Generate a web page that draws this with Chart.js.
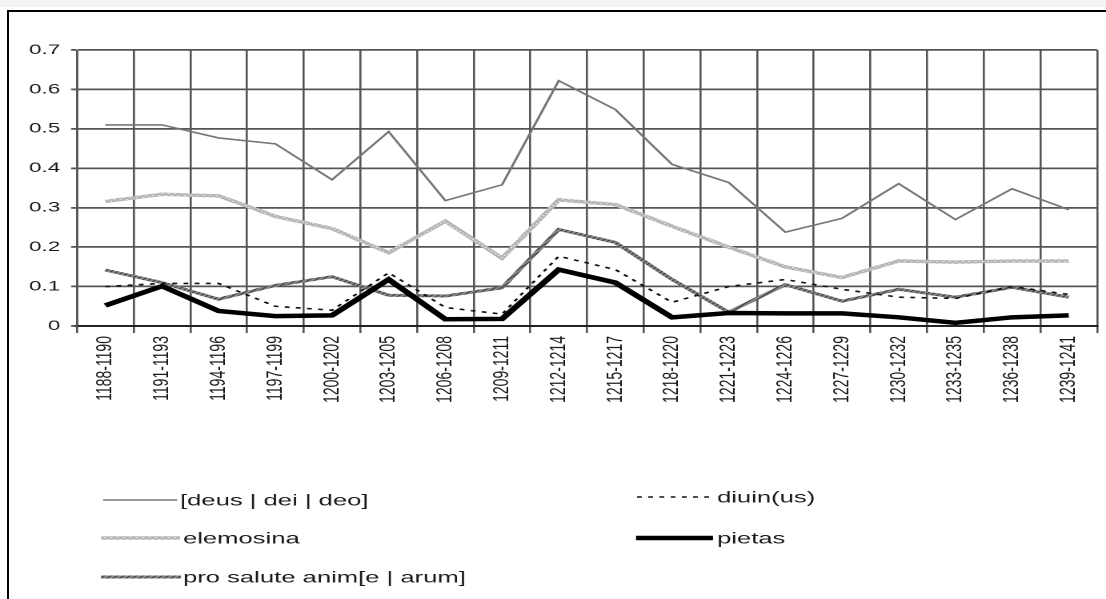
<!DOCTYPE html>
<html lang="la">
<head>
    <meta charset="UTF-8">
    <title>deus / diuin(us) / elemosina / pietas / pro salute anim[e | arum]</title>
    <script src="https://cdn.jsdelivr.net/npm/chart.js"></script>
    <style>
        html, body {
            margin: 0;
            padding: 0;
            background: #fff;
            overflow: hidden;
        }
        .topstrip {
            position: absolute;
            left: 0; top: 0;
            width: 1106px; height: 7px;
            background: #f3f3f3;
        }
        .frame {
            position: absolute;
            left: 7px; top: 10px;
            width: 1120px; height: 620px;
            border: 2px solid #000;
        }
        /* the original picture is an Excel chart stretched sideways: draw it narrow, then widen it */
        #wrap {
            position: absolute;
            left: 0; top: 0;
            width: 691px; height: 599px;
            transform: scaleX(1.6006);
            transform-origin: 0 0;
        }
    </style>
</head>
<body>
    <div class="topstrip"></div>
    <div class="frame"></div>
    <div id="wrap">
        <canvas id="chart" style="width:691px;height:599px"></canvas>
    </div>

    <script>
        // periodes (3 ans)
        const categories = [
            '1188-1190', '1191-1193', '1194-1196', '1197-1199', '1200-1202', '1203-1205',
            '1206-1208', '1209-1211', '1212-1214', '1215-1217', '1218-1220', '1221-1223',
            '1224-1226', '1227-1229', '1230-1232', '1233-1235', '1236-1238', '1239-1241'
        ];

        const deus = [0.51, 0.51, 0.477, 0.462, 0.371, 0.493, 0.318, 0.358, 0.622,
                      0.549, 0.41, 0.364, 0.238, 0.273, 0.361, 0.27, 0.348, 0.295];
        const diuinus = [0.1, 0.108, 0.108, 0.05, 0.04, 0.135, 0.047, 0.03, 0.177,
                         0.143, 0.06, 0.1, 0.118, 0.093, 0.073, 0.07, 0.1, 0.08];
        const elemosina = [0.316, 0.334, 0.33, 0.278, 0.247, 0.186, 0.266, 0.172, 0.32,
                           0.308, 0.253, 0.2, 0.15, 0.123, 0.165, 0.162, 0.165, 0.165];
        const pietas = [0.052, 0.101, 0.038, 0.025, 0.027, 0.118, 0.017, 0.018, 0.143,
                        0.11, 0.022, 0.033, 0.032, 0.032, 0.022, 0.008, 0.022, 0.027];
        const proSalute = [0.142, 0.11, 0.068, 0.103, 0.125, 0.078, 0.076, 0.097, 0.245,
                           0.212, 0.118, 0.035, 0.105, 0.063, 0.093, 0.073, 0.098, 0.073];

        const yTicks = [0, 0.1, 0.2, 0.3, 0.4, 0.5, 0.6, 0.7];

        const SX = 1106 / 691;   // horizontal stretch applied by css

        // petits motifs pour imiter les traits hachures d'Excel
        function makePattern(bg, fg, dots) {
            const c = document.createElement('canvas');
            c.width = 4; c.height = 4;
            const g = c.getContext('2d');
            g.fillStyle = bg;
            g.fillRect(0, 0, 4, 4);
            g.fillStyle = fg;
            dots.forEach(d => g.fillRect(d[0], d[1], 1, 1));
            return g.createPattern(c, 'repeat');
        }
        const elemPattern = makePattern('#b4b4b4', '#ffffff', [[1, 1], [3, 3]]);
        const salutePattern = makePattern('#8c8c8c', '#1a1a1a', [[0, 0], [2, 2], [1, 3], [3, 1]]);

        Chart.defaults.font.family = '"Liberation Sans", Arial, sans-serif';
        Chart.defaults.color = '#1a1a1a';

        // legende en deux colonnes (positions en px de la page)
        const legendLayout = [
            { ds: 0, x0: 103, x1: 177, tx: 180, y: 500 },
            { ds: 2, x0: 101, x1: 180, tx: 183, y: 538 },
            { ds: 4, x0: 101, x1: 181, tx: 183, y: 577 },
            { ds: 1, x0: 637, x1: 710, tx: 717, y: 497 },
            { ds: 3, x0: 636, x1: 713, tx: 717, y: 538 }
        ];

        const legendPlugin = {
            id: 'twoColLegend',
            afterDraw(chart) {
                const ctx = chart.ctx;
                ctx.save();
                legendLayout.forEach(item => {
                    const ds = chart.data.datasets[item.ds];
                    ctx.beginPath();
                    ctx.strokeStyle = ds.borderColor;
                    ctx.lineWidth = ds.borderWidth;
                    ctx.setLineDash(ds.borderDash || []);
                    ctx.moveTo(item.x0 / SX, item.y);
                    ctx.lineTo(item.x1 / SX, item.y);
                    ctx.stroke();
                    ctx.setLineDash([]);
                    ctx.fillStyle = '#1a1a1a';
                    ctx.font = '16px "Liberation Sans", Arial, sans-serif';
                    ctx.textBaseline = 'middle';
                    ctx.textAlign = 'left';
                    ctx.fillText(ds.label, item.tx / SX, item.y + 1);
                });
                ctx.restore();
            }
        };

        const ctx = document.getElementById('chart').getContext('2d');
        new Chart(ctx, {
            type: 'line',
            data: {
                labels: categories,
                datasets: [
                    {
                        label: '[deus | dei | deo]',
                        data: deus,
                        borderColor: '#777777',
                        borderWidth: 1.6,
                        pointRadius: 0,
                        tension: 0
                    },
                    {
                        label: 'diuin(us)',
                        data: diuinus,
                        borderColor: '#111111',
                        borderWidth: 1.6,
                        borderDash: [3, 4],
                        pointRadius: 0,
                        tension: 0
                    },
                    {
                        label: 'elemosina',
                        data: elemosina,
                        borderColor: elemPattern,
                        borderWidth: 3.5,
                        pointRadius: 0,
                        tension: 0
                    },
                    {
                        label: 'pietas',
                        data: pietas,
                        borderColor: '#000000',
                        borderWidth: 4.5,
                        pointRadius: 0,
                        tension: 0
                    },
                    {
                        label: 'pro salute anim[e | arum]',
                        data: proSalute,
                        borderColor: salutePattern,
                        borderWidth: 3,
                        pointRadius: 0,
                        tension: 0
                    }
                ]
            },
            options: {
                responsive: false,
                animation: false,
                devicePixelRatio: 2,
                layout: {
                    padding: { left: 0, top: 50, right: 5.6, bottom: 183 }
                },
                plugins: {
                    legend: { display: false },
                    tooltip: { enabled: false }
                },
                scales: {
                    x: {
                        offset: true,
                        grid: {
                            offset: true,
                            color: '#555',
                            lineWidth: 1.3,
                            tickLength: 7
                        },
                        border: { color: '#222', width: 2 },
                        ticks: {
                            minRotation: 90,
                            maxRotation: 90,
                            autoSkip: false,
                            padding: 3,
                            font: { size: 14 }
                        },
                        afterFit(scale) { scale.height = 90; }
                    },
                    y: {
                        min: 0,
                        max: 0.7,
                        afterBuildTicks(scale) {
                            scale.ticks = yTicks.map(v => ({ value: v }));
                        },
                        grid: {
                            color: '#555',
                            lineWidth: 1.8,
                            tickLength: 3.7
                        },
                        border: { color: '#555', width: 1.3 },
                        ticks: {
                            padding: 6.8,
                            font: { size: 14 },
                            callback: v => (v === 0 ? '0' : v.toFixed(1))
                        },
                        afterFit(scale) { scale.width = 48.1; }
                    }
                }
            },
            plugins: [legendPlugin]
        });
    </script>
</body>
</html>
